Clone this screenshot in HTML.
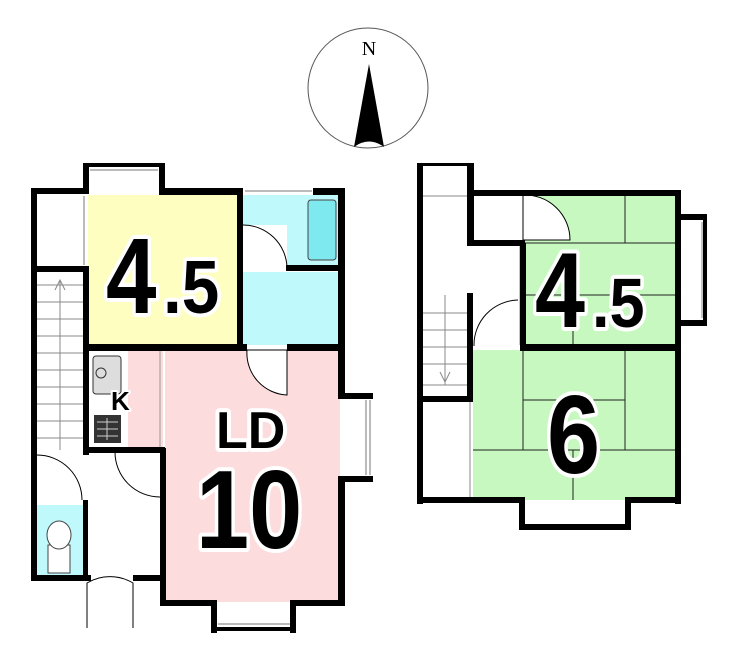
<!DOCTYPE html>
<html><head><meta charset="utf-8"><style>
html,body{margin:0;padding:0;background:#fff;width:740px;height:665px;overflow:hidden}
svg{display:block}
.n{font-family:"Liberation Sans",sans-serif;font-weight:bold;fill:#000;stroke:#fff;stroke-width:8;paint-order:stroke;stroke-linejoin:round}
</style></head><body>
<svg width="740" height="665" viewBox="0 0 740 665" xmlns="http://www.w3.org/2000/svg">
<circle cx="368" cy="88" r="60" fill="#fff" stroke="#555" stroke-width="1"/>
<text x="369" y="55" font-family="Liberation Serif,serif" font-size="20" text-anchor="middle">N</text>
<path d="M369 64 L384 147 Q369 136 354 147 Z" fill="#000"/>

<rect x="88" y="195" width="149" height="150" fill="#fefec0"/>
<rect x="243" y="195" width="97" height="72" fill="#bff9fc"/>
<rect x="243" y="272" width="97" height="73" fill="#bff9fc"/>
<rect x="165" y="350" width="175" height="252" fill="#fcdcdc"/>
<rect x="345" y="398" width="25" height="80" fill="#fff"/>
<rect x="88" y="350" width="75" height="100" fill="#fcdcdc"/>
<rect x="88" y="350" width="40" height="100" fill="#fff"/>
<rect x="37" y="505" width="46" height="72" fill="#bff9fc"/>
<rect x="308" y="200" width="28" height="60" rx="3" fill="#7fe9f0" stroke="#444" stroke-width="1"/>
<rect x="243" y="225" width="44" height="42" fill="#fff"/>
<path d="M243 225 A44 44 0 0 1 287 267" fill="none" stroke="#000" stroke-width="1"/>
<path d="M247 350 L287 350 L287 395 A42 42 0 0 1 247 350Z" fill="#fff" stroke="#000" stroke-width="1"/>
<rect x="93" y="356" width="28" height="38" rx="3" fill="#ddd" stroke="#333" stroke-width="1"/>
<circle cx="101" cy="373" r="5" fill="#ddd" stroke="#333"/>
<rect x="94" y="415" width="27" height="28" fill="#333"/>
<g stroke="#ccc" stroke-width="1"><line x1="97" y1="422" x2="118" y2="422"/><line x1="97" y1="429" x2="118" y2="429"/><line x1="97" y1="436" x2="118" y2="436"/><line x1="107" y1="418" x2="107" y2="440"/></g>
<text x="111" y="410" class="n" style="font-size:26px;stroke-width:4">K</text>
<line x1="160" y1="350" x2="160" y2="450" stroke="#999"/>
<g stroke="#888" stroke-width="1">
<line x1="37" y1="285" x2="83" y2="285"/><line x1="37" y1="302" x2="83" y2="302"/><line x1="37" y1="319" x2="83" y2="319"/>
<line x1="37" y1="336" x2="83" y2="336"/><line x1="37" y1="353" x2="83" y2="353"/><line x1="37" y1="370" x2="83" y2="370"/>
<line x1="37" y1="387" x2="83" y2="387"/><line x1="37" y1="404" x2="83" y2="404"/><line x1="37" y1="421" x2="83" y2="421"/>
<line x1="37" y1="438" x2="83" y2="438"/><line x1="60" y1="280" x2="60" y2="450"/>
<path d="M55 290 L60 280 L65 290" fill="none"/>
</g>
<path d="M37 455 A45 45 0 0 1 82 500" fill="none" stroke="#000" stroke-width="1"/>
<path d="M115 452 A45 45 0 0 0 160 497" fill="none" stroke="#000" stroke-width="1"/>
<path d="M87 628 L87 583 A45 45 0 0 1 133 583 L133 628" fill="none" stroke="#000" stroke-width="1"/>
<rect x="48" y="545" width="22" height="28" fill="#fff" stroke="#444"/>
<ellipse cx="59" cy="535" rx="12" ry="14" fill="#fff" stroke="#444"/>
<g fill="#000">
<rect x="31" y="188" width="57" height="6"/>
<rect x="31" y="188" width="6" height="392"/>
<rect x="83" y="163" width="6" height="31"/>
<rect x="83" y="163" width="80" height="4"/>
<rect x="159" y="163" width="6" height="32"/>
<rect x="159" y="188" width="84" height="7"/>
<rect x="313" y="188" width="32" height="7"/>
<rect x="237" y="190" width="6" height="160"/>
<rect x="338" y="188" width="7" height="210"/>
<rect x="286" y="265" width="57" height="6"/>
<rect x="31" y="266" width="57" height="6"/>
<rect x="83" y="266" width="6" height="189"/>
<rect x="83" y="344" width="164" height="7"/>
<rect x="287" y="344" width="58" height="7"/>
<rect x="83" y="447" width="82" height="6"/>
<rect x="160" y="448" width="6" height="158"/>
<rect x="338" y="393" width="35" height="6"/>
<rect x="338" y="476" width="35" height="6"/>
<rect x="338" y="476" width="7" height="130"/>
<rect x="160" y="600" width="55" height="6"/>
<rect x="292" y="600" width="53" height="6"/>
<rect x="211" y="600" width="6" height="33"/>
<rect x="290" y="600" width="6" height="33"/>
<rect x="211" y="627" width="85" height="4"/>
<rect x="31" y="575" width="60" height="6"/>
<rect x="133" y="575" width="30" height="6"/>
<rect x="83" y="500" width="5" height="80"/>
</g>
<g stroke="#777" fill="none">
<line x1="90" y1="170" x2="158" y2="170"/><line x1="245" y1="191" x2="312" y2="191"/>
<line x1="366" y1="400" x2="366" y2="475"/><line x1="370" y1="400" x2="370" y2="475"/>
<line x1="218" y1="624" x2="290" y2="624"/>
<line x1="84" y1="196" x2="84" y2="265"/>
</g>

<rect x="523" y="195" width="155" height="152" fill="#c6f8c0"/>
<rect x="473" y="350" width="205" height="150" fill="#c6f8c0"/>
<g stroke="#222" stroke-width="1">
<line x1="625" y1="195" x2="625" y2="243"/><line x1="523" y1="243" x2="678" y2="243"/>
<line x1="523" y1="295" x2="678" y2="295"/><line x1="573" y1="295" x2="573" y2="347"/>
<line x1="523" y1="350" x2="523" y2="450"/><line x1="625" y1="350" x2="625" y2="450"/>
<line x1="523" y1="400" x2="625" y2="400"/><line x1="473" y1="450" x2="678" y2="450"/>
<line x1="573" y1="450" x2="573" y2="500"/>
</g>
<path d="M523 195 L523 240 L570 240 A45 45 0 0 0 523 195Z" fill="#fff" stroke="#000" stroke-width="1"/>
<path d="M473 346 L473 301 Q475 300 517 300 L517 346Z" fill="#fff"/>
<path d="M474 346 A45 45 0 0 1 518 300" fill="none" stroke="#000" stroke-width="1"/>
<g stroke="#888">
<line x1="423" y1="196" x2="470" y2="196"/>
<line x1="423" y1="313" x2="470" y2="313"/><line x1="423" y1="330" x2="470" y2="330"/><line x1="423" y1="347" x2="470" y2="347"/>
<line x1="423" y1="364" x2="470" y2="364"/><line x1="423" y1="385" x2="470" y2="385"/>
<line x1="445" y1="295" x2="445" y2="385"/>
<path d="M440 372 L445 382 L450 372" fill="none"/>
<line x1="520" y1="245" x2="520" y2="345"/><line x1="470" y1="402" x2="470" y2="498"/>
<line x1="702" y1="222" x2="702" y2="318"/>
</g>
<g fill="#000">
<rect x="417" y="163" width="6" height="341"/>
<rect x="417" y="163" width="56" height="3"/>
<rect x="467" y="163" width="7" height="83"/>
<rect x="467" y="190" width="214" height="6"/>
<rect x="467" y="240" width="58" height="6"/>
<rect x="675" y="190" width="6" height="314"/>
<rect x="675" y="214" width="32" height="6"/>
<rect x="675" y="320" width="32" height="6"/>
<rect x="703" y="214" width="4" height="112"/>
<rect x="520" y="344" width="161" height="7"/>
<rect x="520" y="243" width="6" height="105"/>
<rect x="467" y="293" width="6" height="107"/>
<rect x="417" y="396" width="56" height="6"/>
<rect x="417" y="497" width="105" height="6"/>
<rect x="626" y="497" width="55" height="6"/>
<rect x="519" y="497" width="6" height="33"/>
<rect x="625" y="497" width="6" height="33"/>
<rect x="519" y="524" width="112" height="6"/>
</g>

<text class="n" font-size="108" transform="translate(106,313) scale(0.84,1)">4</text>
<text class="n" font-size="75" transform="translate(163,313) scale(0.9,1)">.5</text>
<text x="216" y="448" class="n" font-size="52">LD</text>
<text class="n" font-size="111" transform="translate(196,548) scale(0.86,1)">10</text>
<text class="n" font-size="107" transform="translate(535,327) scale(0.84,1)">4</text>
<text class="n" font-size="70" transform="translate(592,327) scale(0.9,1)">.5</text>
<text class="n" font-size="111" transform="translate(547,473) scale(0.86,1)">6</text>
</svg>
</body></html>
